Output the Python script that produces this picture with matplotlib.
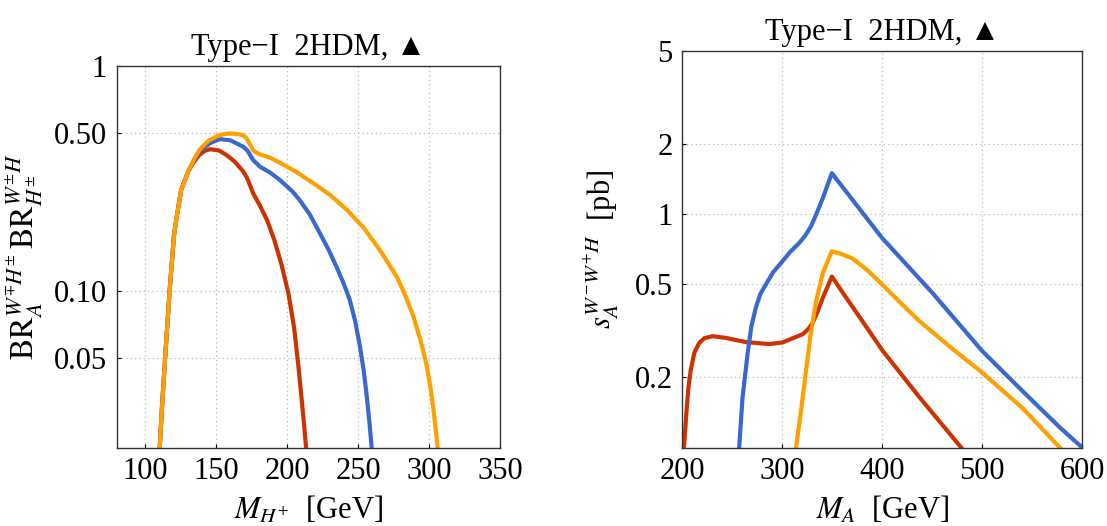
import matplotlib
matplotlib.use('Agg')
import matplotlib.pyplot as plt
from matplotlib.ticker import NullLocator

plt.rcParams['font.family'] = ['Liberation Serif', 'DejaVu Sans']
plt.rcParams['mathtext.fontset'] = 'stix'
plt.rcParams['font.size'] = 22

# colours of the three benchmark curves
c_red = '#cc3300'
c_blue = '#3868d0'
c_orange = '#ffa000'

# ---- left panel: BR x BR vs M_H+ ----
mh_red = [110.3, 112, 114.1, 117.3, 120.4, 122.3, 125.4, 130.5, 134, 138, 142, 145.7, 152, 157.5, 163,
          169.2, 172, 176.2, 181, 186, 191, 196, 201, 205, 208, 211.5, 213.4]
br_red = [0.02, 0.031, 0.05, 0.1, 0.177, 0.213, 0.28, 0.34, 0.37, 0.40, 0.418, 0.425, 0.42, 0.40, 0.375,
          0.338, 0.315, 0.27, 0.238, 0.205, 0.168, 0.131, 0.097, 0.068, 0.046, 0.0274, 0.02]

mh_blue = [110.3, 112, 114.1, 117.3, 120.4, 122.3, 125.4, 130.5, 134, 138, 141, 145.7, 150, 152.8, 160,
           169.2, 172, 176.2, 181, 188, 195, 204, 209, 216, 223.1, 229, 234.8, 240, 244.2, 248,
           251.3, 254, 256, 258, 259.6]
br_blue = [0.02, 0.031, 0.05, 0.1, 0.177, 0.213, 0.28, 0.34, 0.375, 0.412, 0.43, 0.452, 0.465, 0.471, 0.466,
           0.436, 0.42, 0.38, 0.355, 0.335, 0.31, 0.275, 0.252, 0.218, 0.18, 0.153, 0.1276, 0.107, 0.0907,
           0.073, 0.0565, 0.044, 0.0345, 0.026, 0.02]

mh_orange = [110.3, 112, 114.1, 117.3, 120.4, 122.3, 125.4, 130.5, 134, 138, 141, 145, 150.4, 155, 159.8,
             165, 169.2, 171.6, 174, 176.2, 180, 188, 195, 206.8, 218.5, 230, 242, 254, 265.5,
             277.3, 283, 288.9, 294, 298.3, 301, 303, 306.1]
br_orange = [0.02, 0.031, 0.05, 0.1, 0.177, 0.213, 0.28, 0.34, 0.378, 0.42, 0.44, 0.465, 0.485, 0.495, 0.5,
             0.497, 0.49, 0.474, 0.445, 0.42, 0.405, 0.39, 0.37, 0.336, 0.30, 0.267, 0.229, 0.19, 0.151,
             0.115, 0.096, 0.077, 0.06, 0.0465, 0.037, 0.03, 0.02]

# ---- right panel: sigma vs M_A ----
ma_red = [201.6, 204, 206, 208.3, 212, 216.7, 222, 230.1, 243.4, 263.5, 286.9, 300, 307, 320.4,
          326, 330.4, 335, 340.5, 349.5, 362, 375, 400.3, 437.3, 479]
xs_red = [0.1, 0.14, 0.18, 0.2136, 0.255, 0.28, 0.294, 0.3, 0.295, 0.283, 0.2776, 0.282, 0.29, 0.306,
          0.322, 0.343, 0.38, 0.438, 0.54, 0.45, 0.374, 0.26, 0.164, 0.1]

ma_blue = [256.8, 260.2, 265.2, 269, 273.5, 278, 283.6, 291, 300.3, 308, 317, 323, 328.7, 334, 340.5,
           349.5, 399.7, 450, 499.6, 540, 577.6, 600]
xs_blue = [0.1, 0.164, 0.2516, 0.33, 0.3975, 0.455, 0.5, 0.565, 0.629, 0.69, 0.752, 0.81, 0.886, 1.0, 1.17,
           1.495, 0.79, 0.46, 0.26, 0.175, 0.122, 0.1]

ma_orange = [313.7, 318.7, 323.7, 328, 333.8, 340.5, 349.5, 360, 370.2, 385, 399.7, 420, 437.1, 470,
             499.6, 540, 577.6]
xs_orange = [0.1, 0.144, 0.2136, 0.3, 0.424, 0.56, 0.693, 0.672, 0.645, 0.575, 0.5, 0.41, 0.348, 0.265,
             0.21, 0.148, 0.1]

title = 'Type\u2212I  2HDM, \u25b2'

fig = plt.figure(figsize=(11.07, 5.26), dpi=100)
ax1 = fig.add_axes([0.1054, 0.1489, 0.3463, 0.7262])
ax2 = fig.add_axes([0.6164, 0.1489, 0.3613, 0.7548])

lw = 3
ax1.plot(mh_red, br_red, color=c_red, lw=lw)
ax1.plot(mh_blue, br_blue, color=c_blue, lw=lw)
ax1.plot(mh_orange, br_orange, color=c_orange, lw=lw)
ax1.set_yscale('log')
ax1.set_xlim(80, 350)
ax1.set_ylim(0.02, 1)
ax1.set_xticks([100, 150, 200, 250, 300, 350])
ax1.set_yticks([0.05, 0.1, 0.5, 1])
ax1.set_yticklabels(['0.05', '0.10', '0.50', '1'])
ax1.set_xlabel(r'$M_{H^{+}}$  [GeV]', labelpad=6)
ax1.set_ylabel(r'$\mathrm{BR}_A^{W^{\mp}H^{\pm}}\,\mathrm{BR}_{H^{\pm}}^{W^{\pm}H}$',
               labelpad=6, fontsize=23)

ax2.plot(ma_red, xs_red, color=c_red, lw=lw)
ax2.plot(ma_blue, xs_blue, color=c_blue, lw=lw)
ax2.plot(ma_orange, xs_orange, color=c_orange, lw=lw)
ax2.set_yscale('log')
ax2.set_xlim(200, 600)
ax2.set_ylim(0.1, 5)
ax2.set_xticks([200, 300, 400, 500, 600])
ax2.set_yticks([0.2, 0.5, 1, 2, 5])
ax2.set_yticklabels(['0.2', '0.5', '1', '2', '5'])
ax2.set_xlabel(r'$M_A$  [GeV]', labelpad=6)
ax2.set_ylabel(r'$s_A^{W^{-}W^{+}H}$  [pb]', labelpad=10)

for ax in (ax1, ax2):
    ax.yaxis.set_minor_locator(NullLocator())
    ax.xaxis.set_minor_locator(NullLocator())
    ax.grid(True, color='#b8b8b8', lw=0.9, linestyle=(0, (1, 2.5)))
    ax.tick_params(direction='in', length=3, width=0.8, pad=7, top=False, right=False)
    for sp in ax.spines.values():
        sp.set_linewidth(1.0)
        sp.set_color('#333333')
    ax.set_title(title, pad=8, fontsize=22)

fig.savefig('out.png', dpi=100)
